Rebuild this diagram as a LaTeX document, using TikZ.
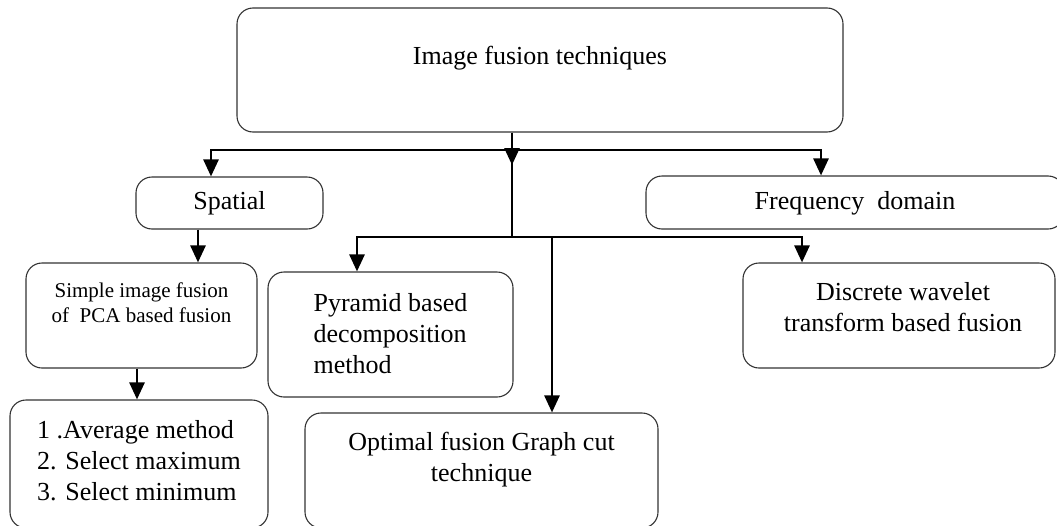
\documentclass[tikz,border=0pt]{standalone}
\usepackage{fontspec}
\setmainfont{Liberation Serif}
\usetikzlibrary{arrows.meta}
\newcommand\mybt[3]{\raisebox{#1}[0pt][0pt]{\begin{tabular}{@{}#2@{}}#3\end{tabular}}}
\begin{document}
\begin{tikzpicture}[x=1pt,y=-1pt,
  box/.style={draw=black!80, line width=1.1pt, rounded corners=16pt, inner sep=0pt,
    font=\fontsize{26}{31}\selectfont},
  conn/.style={line width=2.6pt, black},
  arr/.style={conn, -{Triangle[width=15pt,length=17pt]}},
]
\useasboundingbox (0,0) rectangle (1057,525);
\clip (0,0) rectangle (1057,525);

\node[box, minimum width=606pt, minimum height=124pt] (top) at (540,70)
  {\mybt{5.5pt}{c}{Image fusion techniques}};
\node[box, minimum width=187pt, minimum height=52pt] (spatial) at (229.5,203)
  {\mybt{-6.5pt}{c}{Spatial}};
\node[box, minimum width=418pt, minimum height=53pt] (freq) at (855,202.5)
  {\mybt{-7pt}{c}{Frequency\ \ domain}};
\node[box, minimum width=231pt, minimum height=105pt, font=\fontsize{21}{25}\selectfont] (simple) at (141.5,315.5)
  {\mybt{5.75pt}{c}{Simple image fusion\\ of\ \ PCA based fusion}\hspace{9pt}};
\node[box, minimum width=245pt, minimum height=125pt] (pyramid) at (390.5,334.5)
  {\mybt{-8pt}{l}{Pyramid based\\ decomposition\\ method}\hspace{42pt}};
\node[box, minimum width=312pt, minimum height=105pt] (discrete) at (899,315.5)
  {\hspace{8pt}\mybt{-1pt}{c}{Discrete wavelet\\ transform based fusion}};
\node[box, minimum width=258pt, minimum height=128pt] (average) at (139,464)
  {\mybt{-5.5pt}{l}{1 .Average method\\ 2. Select maximum\\ 3. Select minimum}};
\node[box, minimum width=353pt, minimum height=115pt] (optimal) at (481.5,470.5)
  {\mybt{4.5pt}{c}{Optimal fusion Graph cut\\ technique}};

\coordinate (j1) at (512,150);
\coordinate (j2) at (512,237);
\coordinate (stemtip) at (512,165);

\draw[conn] (top.south -| j1) -- (j2);
\draw[arr] (top.south -| j1) -- (stemtip);
\draw[arr] (j1) -| ([xshift=-18.5pt]spatial.north);
\draw[arr] (j1) -| ([xshift=-34pt]freq.north);
\draw[arr] ([xshift=-31.5pt]spatial.south) -- ([xshift=56.5pt]simple.north);
\draw[arr] ([xshift=-4.5pt]simple.south) -- ([xshift=-2pt]average.north);
\draw[arr] (j2) -| ([xshift=-33.5pt]pyramid.north);
\draw[arr] (j2) -| ([xshift=70.5pt]optimal.north);
\draw[arr] (j2) -| ([xshift=-97pt]discrete.north);
\end{tikzpicture}
\end{document}
